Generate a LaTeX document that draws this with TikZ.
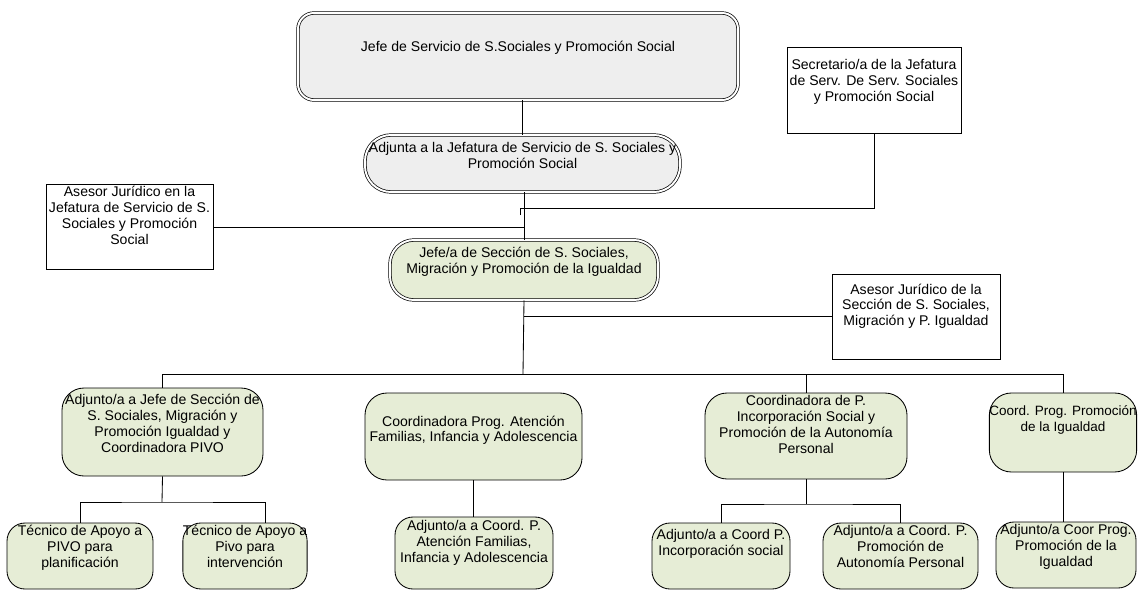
\documentclass[tikz,border=0pt]{standalone}
\usepackage{fontspec}
\usepackage{tikz}
\newfontfamily\orgfont{Liberation Sans}
\definecolor{grisjefe}{RGB}{238,238,238}
\definecolor{verdeorg}{RGB}{230,237,214}

\begin{document}
\begin{tikzpicture}[x=0.025cm, y=-0.025cm,
    caja/.style={draw, line width=0.6pt, align=center, inner xsep=0pt, inner ysep=1pt,
        font=\orgfont\fontsize{10}{11.3}\selectfont, text depth=14pt},
    tam/.style 2 args={minimum width=#1*0.025cm, minimum height=#2*0.025cm},
    jefatura/.style={caja, fill=grisjefe, double, double distance=1.4pt, line width=0.5pt},
    seccion/.style={caja, fill=verdeorg, double, double distance=1.4pt, line width=0.5pt, rounded corners=0.6cm},
    asesor/.style={caja, fill=white},
    puesto/.style={caja, fill=verdeorg, rounded corners=0.55cm},
    enlace/.style={line width=0.6pt}]
        \useasboundingbox (0,0) rectangle (1139,591);

        % Jefatura de servicio
        \node[jefatura, rounded corners=0.4cm, tam={440}{87}, text depth=15pt] (jefe) at (518,56.5) {Jefe de Servicio de S.Sociales y Promoción Social};
        \node[jefatura, rounded corners=0.65cm, tam={315}{57}, text depth=11pt] (adjunta) at (522.5,163.5) {Adjunta a la Jefatura de Servicio de S. Sociales y\\Promoción Social};
        \node[asesor, tam={174}{86}] (secretaria) at (874,90) {Secretario/a de la Jefatura\\de Serv. De Serv. Sociales\\y Promoción Social};
        \node[asesor, tam={167}{84}, text depth=16.7pt] (asesorJ) at (129.5,227) {Asesor Jurídico en la\\Jefatura de Servicio de S.\\Sociales y Promoción\\Social};

        % Jefatura de seccion
        \node[seccion, tam={268}{60}] (seccion) at (524,270) {Jefe/a de Sección de S. Sociales,\\Migración y Promoción de la Igualdad};
        \node[asesor, tam={168}{85}, text depth=16.7pt] (asesorS) at (916,316.5) {Asesor Jurídico de la\\Sección de S. Sociales,\\Migración y P. Igualdad};

        % Coordinaciones
        \node[puesto, tam={201}{88}, text depth=12.4pt] (adjA) at (162.5,432) {Adjunto/a a Jefe de Sección de\\S. Sociales, Migración y\\Promoción Igualdad y\\Coordinadora PIVO};
        \node[puesto, tam={217}{87}, text depth=11pt] (coordB) at (473.5,436.5) {Coordinadora Prog. Atención\\Familias, Infancia y Adolescencia};
        \node[puesto, tam={202}{86}, text depth=16.7pt] (coordC) at (806,436) {Coordinadora de P.\\Incorporación Social y\\Promoción de la Autonomía\\Personal};
        \node[puesto, tam={146}{79}, text depth=19.5pt, font=\orgfont\fontsize{9.6}{11.3}\selectfont] (coordD) at (1063,432.5) {Coord. Prog. Promoción\\de la Igualdad};

        % Adjuntos y tecnicos
        \node[puesto, rounded corners=0.45cm, tam={146}{66}] (tecP) at (80,556) {Técnico de Apoyo a\\PIVO para\\planificación};
        \node[puesto, rounded corners=0.45cm, tam={124}{66}] (tecI) at (245,556) {Técnico de Apoyo a\\Pivo para\\intervención};
        \node[puesto, rounded corners=0.45cm, tam={158}{72}, text depth=16pt] (adjB) at (474,553) {Adjunto/a a Coord. P.\\Atención Familias,\\Infancia y Adolescencia};
        \node[puesto, rounded corners=0.45cm, tam={138}{66}, text depth=19.5pt] (adjIS) at (721,556) {Adjunto/a a Coord P.\\Incorporación social};
        \node[puesto, rounded corners=0.45cm, tam={155}{66}] (adjAP) at (900.5,556) {Adjunto/a a Coord. P.\\Promoción de\\Autonomía Personal};
        \node[puesto, rounded corners=0.45cm, tam={140}{66}] (adjD) at (1066,555) {Adjunto/a Coor Prog.\\Promoción de la\\Igualdad};

        \coordinate (codo) at (520,215);
        \coordinate (bus) at (523,374);
        \coordinate (ramaA) at (162,502);
        \coordinate (bajaI) at (265,523);
        \coordinate (ramaC) at (806,504);

        \draw[enlace] (adjunta.north |- jefe.south) -- (adjunta.north);
        \draw[enlace] (seccion.north |- adjunta.south) -- (seccion.north);
        \draw[enlace] (asesorJ.east) -- (asesorJ.east -| seccion.north);
        \draw[enlace] (codo) -- ++(0,-7) -| (secretaria.south);
        \draw[enlace] (seccion.south |- asesorS.west) -- (asesorS.west);
        \draw[enlace] (seccion.south) -- (bus);
        \draw[enlace] (adjA.north) -- (adjA.north |- bus) -- (coordD.north |- bus) -- (coordD.north);
        \draw[enlace] (coordC.north |- bus) -- (coordC.north);

        \draw[enlace] (adjA.south) -- (ramaA);
        \draw[enlace] (tecP.north) |- (ramaA) -| (bajaI);
        \draw[enlace] (coordB.south) -- (coordB.south |- adjB.north);
        \draw[enlace] (coordC.south) -- (ramaC);
        \draw[enlace] (adjIS.north) |- (ramaC) -| (adjAP.north);
        \draw[enlace] (coordD.south) -- (coordD.south |- adjD.north);
\end{tikzpicture}
\end{document}
